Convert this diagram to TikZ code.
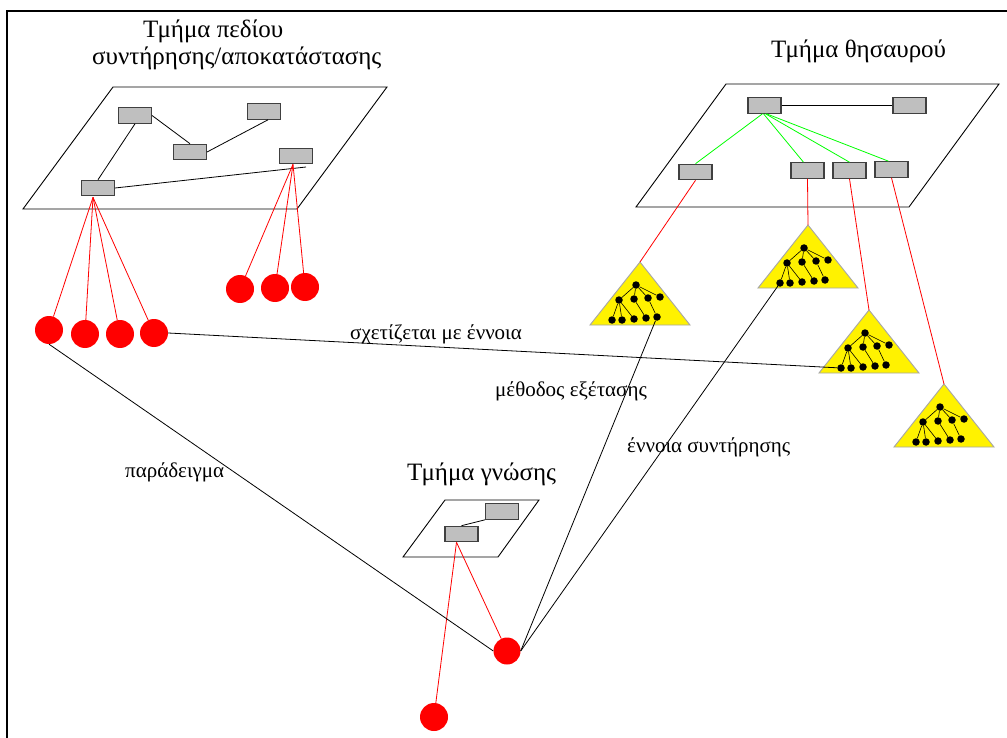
\documentclass[tikz,border=0pt]{standalone}
\usepackage{fontspec}
\setmainfont{Liberation Serif}
\begin{document}
\begin{tikzpicture}[x=1pt,y=-1pt,
  plane/.style={draw=black, line width=0.9pt},
  rec/.style={draw=black!75, fill=black!25, line width=1.1pt,
    minimum width=33pt, minimum height=15.5pt, inner sep=0pt},
  ball/.style={circle, fill=red, draw=none, minimum size=28pt, inner sep=0pt},
  dot/.style={circle, fill=black, draw=none, minimum size=7.5pt, inner sep=0pt},
  redlink/.style={draw=red, line width=0.8pt},
  greenlink/.style={draw=green, line width=0.8pt},
  blacklink/.style={draw=black, line width=0.8pt},
  treeedge/.style={draw=black, line width=0.6pt},
  title/.style={font=\fontsize{25}{29}\selectfont, anchor=base west, inner sep=0pt},
  lab/.style={font=\fontsize{21}{24}\selectfont, anchor=base west, inner sep=0pt},
  kbtree/.pic={
    \draw[fill=yellow, draw=black!35, line width=0.9pt] (0,0) -- (50,63) -- (-50,63) -- cycle;
    \coordinate (-apex) at (0,0);
    \node[dot] (-r) at (-4,23) {};
    \node[dot] (-ma) at (-21,38) {};
    \node[dot] (-mb) at (-6,37) {};
    \node[dot] (-mc) at (8,36) {};
    \node[dot] (-md) at (20,35) {};
    \node[dot] (-la) at (-28,58) {};
    \node[dot] (-lb) at (-18,58) {};
    \node[dot] (-lc) at (-6,57) {};
    \node[dot] (-ld) at (6,56) {};
    \node[dot] (-le) at (17,55) {};
    \draw[treeedge] (-r) -- (-ma);
    \draw[treeedge] (-r) -- (-mb);
    \draw[treeedge] (-r) -- (-mc);
    \draw[treeedge] (-r) -- (-md);
    \draw[treeedge] (-ma) -- (-la);
    \draw[treeedge] (-ma) -- (-lb);
    \draw[treeedge] (-ma) -- (-lc);
    \draw[treeedge] (-mb) -- (-ld);
    \draw[treeedge] (-mc) -- (-le);
  }]
\useasboundingbox (0,0) rectangle (1007,738);
\fill[white] (0,0) rectangle (1007,738);

% outer frame (top and left edges)
\draw[line width=1.5pt] (7,738) -- (7,11) -- (1007,11);

% ---------- conservation/restoration field part ----------
\node[title] (tfield1) at (143,38) {Τμήμα πεδίου};
\node[title] (tfield2) at (92,65) {συντήρησης/αποκατάστασης};
\draw[plane] (113,87) -- (387,87) -- (297,209) -- (23,209) -- cycle;
\node[rec] (b1) at (135,115.5) {};
\node[rec] (b2) at (264,111.5) {};
\node[rec] (b3) at (190,152) {};
\node[rec] (b4) at (296,156) {};
\node[rec] (b5) at (98,188) {};
\coordinate (b4foot) at (306,167);
\draw[blacklink] (b1.east) -- (b3.north);
\draw[blacklink] (b3.east) -- ([xshift=4pt]b2.south);
\draw[blacklink] (b1.south) -- (b5.north);
\draw[blacklink] (b5.east) -- (b4foot);

\node[ball] (c1) at (49,330) {};
\node[ball] (c2) at (85,334) {};
\node[ball] (c3) at (120,334) {};
\node[ball] (c4) at (154,333) {};
\node[ball] (c5) at (240,289) {};
\node[ball] (c6) at (275,288) {};
\node[ball] (c7) at (305,287) {};
\foreach \c in {c1,c2,c3,c4}
  \draw[redlink] ([xshift=-5pt,yshift=-1pt]b5.south) -- (\c);
\foreach \c in {c5,c6,c7}
  \draw[redlink] ([xshift=-3pt]b4.south) -- (\c);

% ---------- thesaurus part ----------
\node[title] (tthes) at (771,58) {Τμήμα θησαυρού};
\draw[plane] (726,84) -- (999,84) -- (909,207) -- (636,207) -- cycle;
\node[rec] (t1) at (764.5,105.5) {};
\node[rec] (t2) at (909.5,105.5) {};
\node[rec] (t3) at (695.5,172) {};
\node[rec] (t4) at (807.5,170.5) {};
\node[rec] (t5) at (849.5,170.5) {};
\node[rec] (t6) at (891.5,169.5) {};
\draw[blacklink] (t1.east) -- (t2.west);
\draw[greenlink] ([xshift=-2pt]t1.south) -- (t3.north);
\draw[greenlink] ([xshift=-1pt]t1.south) -- ([xshift=-4pt]t4.north);
\draw[greenlink] ([xshift=1pt]t1.south) -- (t5.north);
\draw[greenlink] ([xshift=2pt]t1.south) -- ([xshift=-3pt]t6.north);

\pic (tr1) at (640,262) {kbtree};
\pic (tr2) at (808,225) {kbtree};
\pic (tr3) at (869,310) {kbtree};
\pic (tr4) at (944,384) {kbtree};
\draw[redlink] (t3.south) -- (tr1-apex);
\draw[redlink] (t4.south) -- (tr2-apex);
\draw[redlink] (t5.south) -- (tr3-apex);
\draw[redlink] (t6.south) -- (tr4-apex);

% ---------- knowledge part ----------
\node[title] (tknow) at (407,480) {Τμήμα γνώσης};
\draw[plane] (445,500) -- (539,500) -- (498,557) -- (403,557) -- cycle;
\node[rec] (kb1) at (502,511.5) {};
\node[rec] (kb2) at (461.5,534) {};
\draw[blacklink] (kb2.north) -- (kb1.south west);
\node[ball, minimum size=27pt] (k1) at (507,651) {};
\node[ball] (k2) at (434,717) {};
\draw[redlink] ([xshift=-5pt]kb2.south) -- (k1);
\draw[redlink] ([xshift=-5pt]kb2.south) -- (k2);

% ---------- relations ----------
\draw[blacklink] (c4.east) -- (tr3-la);
\draw[blacklink] (c1.south) -- (k1.west);
\draw[blacklink] (k1.east) -- (tr1-le);
\draw[blacklink] (k1.east) -- (tr2-la);

\node[lab] (lrel) at (350,339) {σχετίζεται με έννοια};
\node[lab] (lmeth) at (495,396) {μέθοδος εξέτασης};
\node[lab] (lconc) at (627,452) {έννοια συντήρησης};
\node[lab] (lexam) at (125,477) {παράδειγμα};
\end{tikzpicture}
\end{document}
